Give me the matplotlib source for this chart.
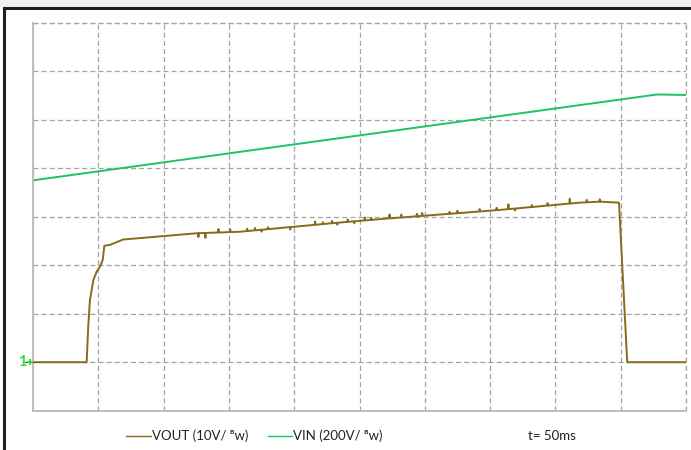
import numpy as np
import matplotlib.pyplot as plt
from matplotlib.lines import Line2D
from matplotlib.patches import Rectangle

# time in ms (10 divisions of 50 ms), level in divisions (0..8)
vout_t = [0, 41.1, 42.3, 43.6, 46.2, 48.8, 51.3, 53.4, 54.6, 59.0, 69.1, 99.8, 126.6,
          158.5, 235, 265.7, 357.6, 418.8, 434, 448.7, 455, 500]
vout_v = [1.0, 1.0, 1.74, 2.28, 2.69, 2.87, 2.97, 3.11, 3.40, 3.42, 3.53, 3.60, 3.66,
          3.69, 3.88, 3.95, 4.14, 4.29, 4.31, 4.29, 1.0, 1.0]

# small glitches on the output trace (ms, offset in divisions)
spike_t = [126.6, 132, 142, 151, 164, 170, 175, 180, 197, 216, 222, 229, 233, 241, 246,
           254, 259, 273, 282, 294, 298, 319, 325, 342, 355, 364, 369, 382, 394, 411, 424, 434]
spike_d = [-0.08, -0.1, 0.07, 0.06, 0.05, 0.05, -0.04, 0.04, -0.05, 0.07, 0.04, 0.05, -0.04,
           0.05, -0.04, 0.06, 0.04, 0.08, 0.06, 0.05, 0.06, 0.04, 0.05, 0.05, 0.05, 0.1,
           -0.04, 0.04, 0.05, 0.1, 0.05, 0.05]

vin_t = [0, 477.8, 500]
vin_v = [4.75, 6.52, 6.51]

vout_color = '#8a6a1c'
vin_color = '#1ec26a'
grid_color = '#a3a3a3'

# insert glitches into the output trace
pts = list(zip(vout_t, vout_v))
for t, d in zip(spike_t, spike_d):
    base = np.interp(t, vout_t, vout_v)
    pts += [(t - 0.4, base), (t, base + d), (t + 0.4, base)]
pts.sort(key=lambda p: p[0])
vt = [p[0] for p in pts]
vv = [p[1] for p in pts]

plt.rcParams['font.family'] = ['Lato', 'DejaVu Sans']

fig = plt.figure(figsize=(6.91, 4.5), dpi=100)

# screenshot frame
fig.patches.append(Rectangle((0, 1 - 7 / 450), 1, 7 / 450, transform=fig.transFigure,
                             facecolor='#f3f3f3', edgecolor='none', zorder=0))
fig.add_artist(Line2D([4 / 691, 1], [1 - 8 / 450, 1 - 8 / 450], color='#222222', lw=2.2))
fig.add_artist(Line2D([4 / 691, 4 / 691], [0, 1 - 8 / 450], color='#222222', lw=2.2))

ax = fig.add_axes([33 / 691, 39.3 / 450, 653 / 691, 388 / 450])
ax.set_xlim(0, 500)
ax.set_ylim(0, 8)
ax.set_xticks(np.arange(0, 501, 50))
ax.set_yticks(np.arange(0, 9, 1))
ax.tick_params(length=0, labelbottom=False, labelleft=False)
ax.grid(True, color=grid_color, linestyle=(0, (4, 2.5)), linewidth=0.9)
ax.axhline(8, color=grid_color, linestyle=(0, (4, 2.5)), linewidth=0.9, clip_on=False)
ax.axvline(500, color=grid_color, linestyle=(0, (4, 2.5)), linewidth=0.9, clip_on=False)
for s in ['top', 'right']:
    ax.spines[s].set_visible(False)
for s in ['left', 'bottom']:
    ax.spines[s].set_color('#bdbdbd')
    ax.spines[s].set_linewidth(1.4)

ax.plot(vin_t, vin_v, color=vin_color, lw=1.4)
ax.plot(vt, vv, color=vout_color, lw=1.4)

# channel marker
fig.text(18 / 691, 1 - 362 / 450, '1', color='#33dd33', fontsize=10.5, fontweight='bold',
         va='center', ha='left')
fig.add_artist(Line2D([25 / 691, 33 / 691], [1 - 362 / 450] * 2, color='#444444', lw=0.8))
fig.add_artist(Line2D([30 / 691], [1 - 362 / 450], marker='+', color='#33dd33', ms=5, mew=1.4))

# legend
ly = 1 - 436 / 450
fig.add_artist(Line2D([126 / 691, 151 / 691], [ly, ly], color=vout_color, lw=1.0))
fig.text(152 / 691, ly, 'VOUT (10V/ \u1d2ew)', fontsize=9.5, va='center', ha='left', color='#222222')
fig.add_artist(Line2D([268 / 691, 292 / 691], [ly, ly], color=vin_color, lw=1.0))
fig.text(293 / 691, ly, 'VIN (200V/ \u1d2ew)', fontsize=9.5, va='center', ha='left', color='#222222')
fig.text(528 / 691, ly, 't= 50ms', fontsize=9.5, va='center', ha='left', color='#222222')

fig.savefig('out.png', dpi=100)
